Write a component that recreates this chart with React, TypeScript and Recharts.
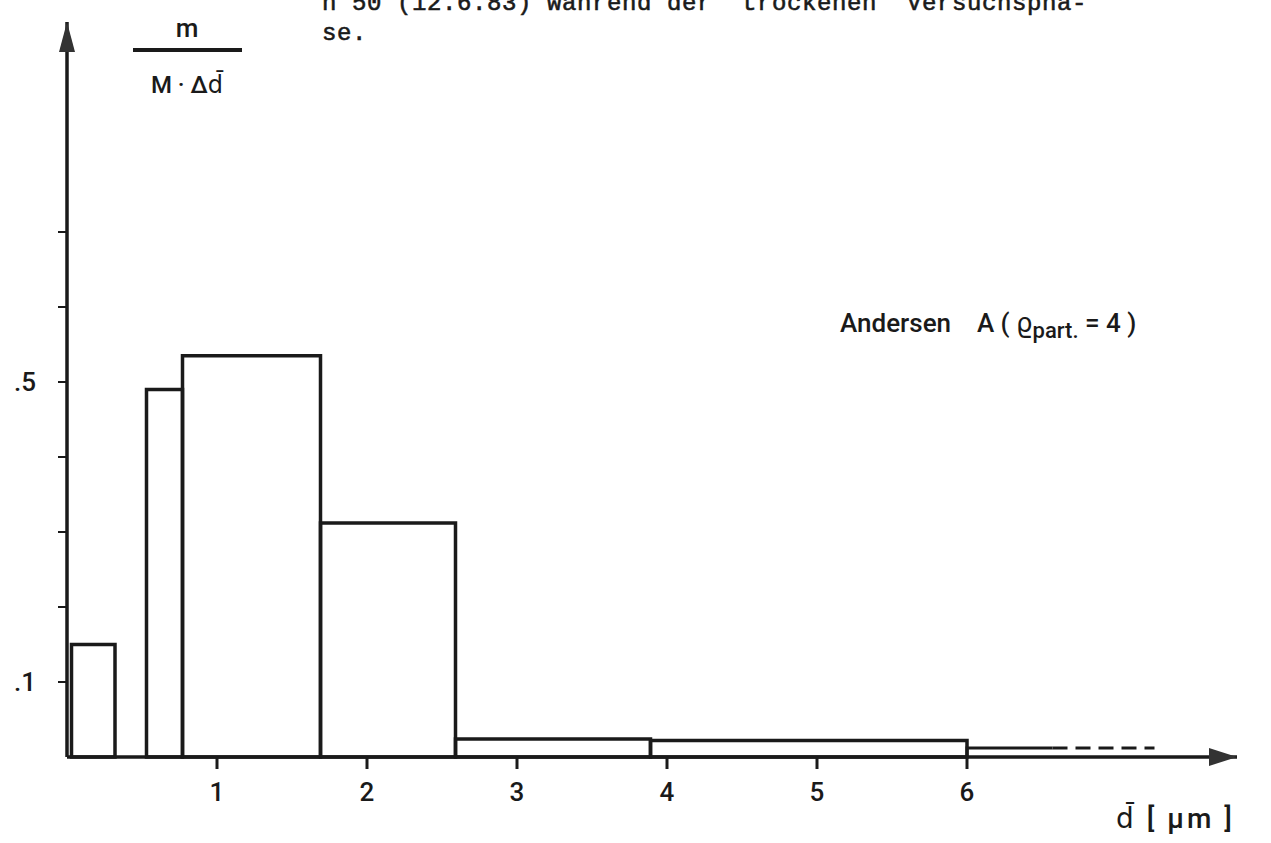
import { ComposedChart, Line, XAxis, YAxis, ReferenceArea } from 'recharts';

// histogram bins, d in µm, value m / (M·Δd)
const binStart = [0.03, 0.53, 0.77, 1.69, 2.59, 3.89];
const binEnd = [0.32, 0.77, 1.69, 2.59, 3.89, 6.0];
const binValue = [0.15, 0.49, 0.535, 0.312, 0.024, 0.022];

// open last class: solid part and dashed continuation
const tailX = [6.0, 6.0, 6.57];
const tailY = [0, 0.012, 0.012];
const dashX = [6.57, 7.25];
const dashY = [0.012, 0.012];

const xTicks = [1, 2, 3, 4, 5, 6];
const yTicks = [0.1, 0.2, 0.3, 0.4, 0.5, 0.6, 0.7];
const yLabels: Record<string, string> = { '0.1': '.1', '0.5': '.5' };

const ink = '#1a1a1a';
const font = 'Roboto, "DejaVu Sans", sans-serif';

const tail = tailX.map((x, i) => ({ x, y: tailY[i] }));
const dash = dashX.map((x, i) => ({ x, y: dashY[i] }));

export default function App() {
  return (
    <div style={{ position: 'absolute', left: 0, top: 0, width: 1271, height: 843, background: '#fff' }}>
      <svg width={0} height={0} style={{ position: 'absolute' }}>
        <defs>
          <marker id="arrX" markerUnits="userSpaceOnUse" markerWidth={30} markerHeight={20} refX={28} refY={10} orient="auto">
            <path d="M0,1 L28,10 L0,19 z" fill="#333" />
          </marker>
          <marker id="arrY" markerUnits="userSpaceOnUse" markerWidth={32} markerHeight={20} refX={30} refY={10} orient="auto-start-reverse">
            <path d="M0,2 L30,10 L0,18 z" fill="#333" />
          </marker>
        </defs>
      </svg>
      <ComposedChart width={1271} height={843} margin={{ top: 22, right: 34, bottom: 26, left: 0 }}>
        <XAxis
          type="number"
          dataKey="x"
          domain={[0, 7.8]}
          ticks={xTicks}
          allowDataOverflow
          tickSize={12}
          tickMargin={14}
          height={60}
          axisLine={{ stroke: ink, strokeWidth: 3.5, markerEnd: 'url(#arrX)' }}
          tickLine={{ stroke: ink, strokeWidth: 3 }}
          tick={{ fill: ink, fontSize: 26, fontFamily: font, fontWeight: 500 }}
        />
        <YAxis
          type="number"
          domain={[0, 0.98]}
          ticks={yTicks}
          allowDataOverflow
          width={67}
          tickSize={9}
          tickMargin={22}
          tickFormatter={(v: number) => yLabels[String(v)] ?? ''}
          axisLine={{ stroke: ink, strokeWidth: 3.5, markerStart: 'url(#arrY)' }}
          tickLine={{ stroke: ink, strokeWidth: 2 }}
          tick={{ fill: ink, fontSize: 26, fontFamily: font, fontWeight: 500 }}
        />
        {binValue.map((v, i) => (
          <ReferenceArea
            key={i}
            x1={binStart[i]}
            x2={binEnd[i]}
            y1={0}
            y2={v}
            fill="#fff"
            fillOpacity={0}
            stroke={ink}
            strokeWidth={3.5}
            ifOverflow="visible"
          />
        ))}
        <Line data={tail} dataKey="y" type="linear" stroke={ink} strokeWidth={3} dot={false} isAnimationActive={false} />
        <Line data={dash} dataKey="y" type="linear" stroke={ink} strokeWidth={3} strokeDasharray="15 8" dot={false} isAnimationActive={false} />
      </ComposedChart>
      <svg width={1271} height={843} style={{ position: 'absolute', left: 0, top: 0, pointerEvents: 'none' }}>
        <g fontFamily='"Liberation Mono", monospace' fontSize={24} letterSpacing={0.6} fill={ink} stroke={ink} strokeWidth={0.6}>
          <text x={322} y={10}>n 50 (12.6.83) während der "trockenen" Versuchspha-</text>
          <text x={322} y={40}>se.</text>
        </g>
        <g fontFamily={font} fontSize={26} fontWeight={500} fill={ink}>
          <text x={187} y={37} textAnchor="middle">m</text>
          <line x1={133} x2={242} y1={50} y2={50} stroke={ink} strokeWidth={4} />
          <text x={187} y={93} textAnchor="middle" fontSize={24}>M · Δd̄</text>
          <text x={840} y={332}>
            Andersen{'\u00a0\u00a0\u00a0\u00a0'}A ( ϱ
            <tspan fontSize={22} dy={6}>part.</tspan>
            <tspan dy={-6}> = 4 )</tspan>
          </text>
          <text x={1116} y={828} fontSize={28} letterSpacing={3}>d̄  [ µm ]</text>
        </g>
      </svg>
    </div>
  );
}
